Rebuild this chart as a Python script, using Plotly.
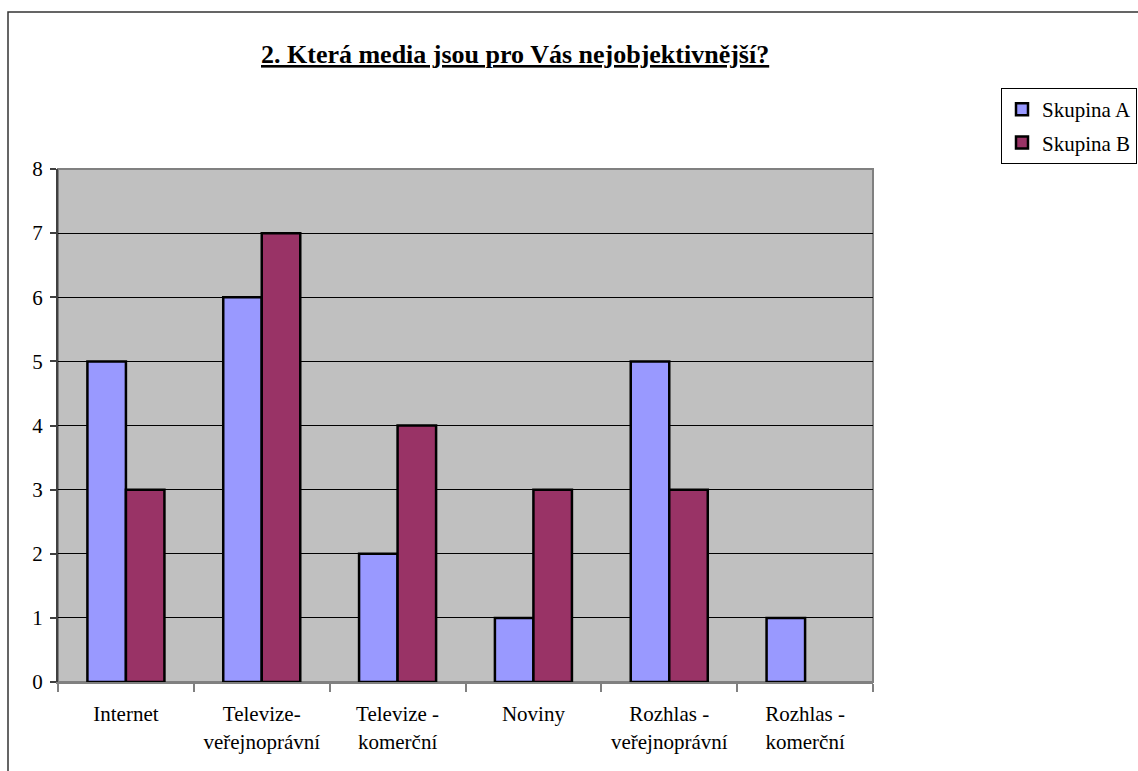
import plotly.graph_objects as go

categories = ["Internet", "Televize-<br>veřejnoprávní", "Televize -<br>komerční",
              "Noviny", "Rozhlas -<br>veřejnoprávní", "Rozhlas -<br>komerční"]
skupina_a = [5, 6, 2, 1, 5, 1]
skupina_b = [3, 7, 4, 3, 3, 0]
y_ticks = [0, 1, 2, 3, 4, 5, 6, 7, 8]
title_text = "2. Která media jsou pro Vás nejobjektivnější?"

FONT = "Liberation Serif, Times New Roman, serif"
W, H = 1138, 771
L, R, T, B = 58, 873, 169, 682
pw, ph = R - L, B - T


def px(x):
    return (x - L) / pw


def py(y):
    return (B - y) / ph


def outline(vals):
    return [2.5 if v > 0 else 0 for v in vals]


fig = go.Figure()
fig.add_trace(go.Bar(x=categories, y=skupina_a, name="Skupina A", legendgroup="a",
                     marker=dict(color="#9999FF",
                                 line=dict(color="black", width=outline(skupina_a)))))
fig.add_trace(go.Bar(x=categories, y=skupina_b, name="Skupina B", legendgroup="b",
                     marker=dict(color="#993366",
                                 line=dict(color="black", width=outline(skupina_b)))))

fig.update_layout(
    width=W, height=H,
    margin=dict(l=L, r=W - R, t=T, b=H - B, pad=0, autoexpand=False),
    paper_bgcolor="white",
    plot_bgcolor="#C0C0C0",
    font=dict(family=FONT, size=21, color="black"),
    barmode="group", bargap=0.433, bargroupgap=0,
    showlegend=True,
    legend=dict(x=px(1001), y=py(88), xanchor="left", yanchor="top",
                bgcolor="white", bordercolor="black", borderwidth=1,
                font=dict(family=FONT, size=21), traceorder="grouped",
                tracegroupgap=3),
    xaxis=dict(showgrid=False, showline=True, linecolor="#808080", linewidth=2,
               ticks="outside", tickson="boundaries", ticklen=8, tickcolor="#808080",
               tickwidth=1.5, ticklabelstandoff=12,
               tickfont=dict(family=FONT, size=21), zeroline=False),
    yaxis=dict(range=[0, 8], tickvals=y_ticks, showgrid=True, gridcolor="black",
               gridwidth=1, showline=True, linecolor="#404040", linewidth=2,
               ticks="outside", ticklen=6, tickcolor="#404040", tickwidth=1.5,
               ticklabelstandoff=3, tickfont=dict(family=FONT, size=21), zeroline=False),
    shapes=[
        dict(type="rect", xref="paper", yref="paper", x0=0, x1=1, y0=0, y1=1,
             line=dict(color="#808080", width=2), layer="below"),
        dict(type="rect", xref="paper", yref="paper", x0=px(8), x1=px(1200),
             y0=py(800), y1=py(12), line=dict(color="#333333", width=1.5)),
    ],
    annotations=[
        dict(text="<u><b>" + title_text + "</b></u>", xref="paper", yref="paper",
             x=px(515), y=py(55), xanchor="center", yanchor="middle", showarrow=False,
             font=dict(family=FONT, size=26, color="black")),
    ],
)

fig.write_html("out.html", config={"displayModeBar": False},
               post_script="document.body.style.margin='0';")
